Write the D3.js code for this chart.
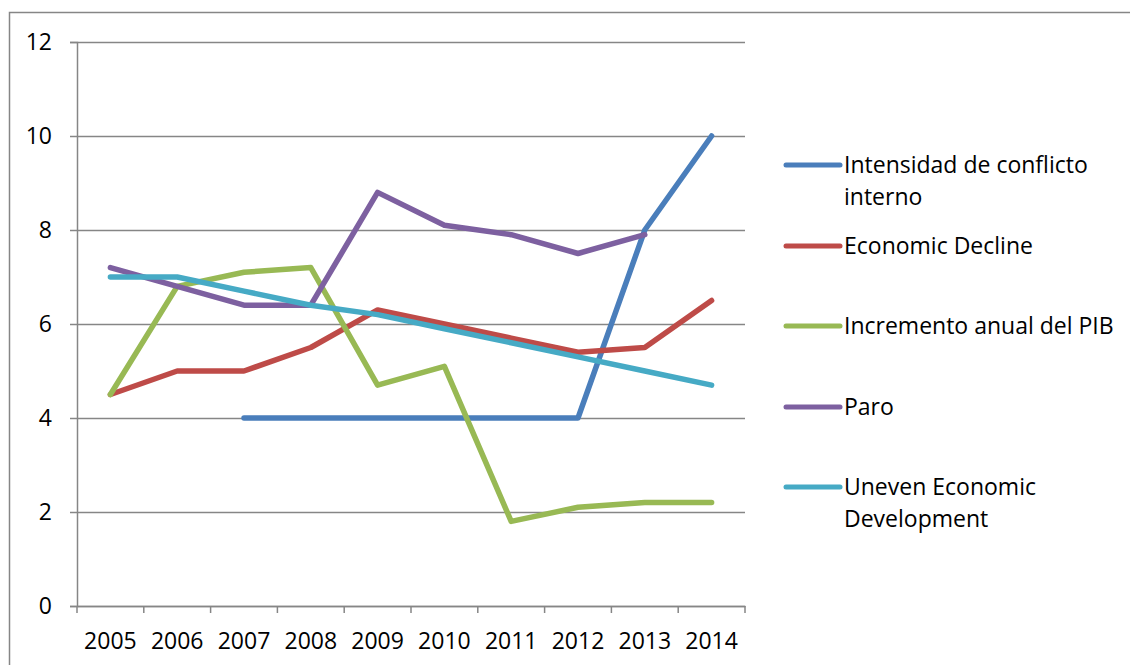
<!DOCTYPE html>
<html>
<head>
<meta charset="utf-8">
<script src="https://cdnjs.cloudflare.com/ajax/libs/d3/7.8.5/d3.min.js"></script>
<style>
  body { margin: 0; background: #fff; }
  svg text { font-family: "Open Sans", "Noto Sans", sans-serif; fill: #000; }
</style>
</head>
<body>
<div id="graph"></div>
<script>
var years = ["2005", "2006", "2007", "2008", "2009", "2010", "2011", "2012", "2013", "2014"];
var yTicks = [0, 2, 4, 6, 8, 10, 12];

var intensidad = [null, null, 4, 4, 4, 4, 4, 4, 8, 10];
var economicDecline = [4.5, 5, 5, 5.5, 6.3, 6, 5.7, 5.4, 5.5, 6.5];
var incremento = [4.5, 6.8, 7.1, 7.2, 4.7, 5.1, 1.8, 2.1, 2.2, 2.2];
var paro = [7.2, 6.8, 6.4, 6.4, 8.8, 8.1, 7.9, 7.5, 7.9, null];
var uneven = [7, 7, 6.7, 6.4, 6.2, 5.9, 5.6, 5.3, 5.0, 4.7];

var seriesNames = [["Intensidad de conflicto", "interno"], ["Economic Decline"], ["Incremento anual del PIB"], ["Paro"], ["Uneven Economic", "Development"]];
var seriesValues = [intensidad, economicDecline, incremento, paro, uneven];
var seriesColours = ["#4A7EBB", "#BE4B48", "#98B954", "#7D60A0", "#46AAC5"];

var width = 1130;
var height = 665;
var margin = {top: 42, left: 77, right: 385, bottom: 59};
var plotW = width - margin.left - margin.right;
var plotH = height - margin.top - margin.bottom;
var fontSize = "23px";

var svg = d3.select("#graph")
            .append("svg")
            .attr("width", width)
            .attr("height", height);

// outer chart frame (runs off the right and bottom of the picture)
svg.append("rect")
   .attr("x", 9.5)
   .attr("y", 12.5)
   .attr("width", width + 20)
   .attr("height", height + 20)
   .attr("fill", "none")
   .attr("stroke", "#868686")
   .attr("stroke-width", 1.5);

var g = svg.append("g")
           .attr("transform", "translate(" + margin.left + "," + margin.top + ")");

var x = d3.scaleBand()
          .domain(years)
          .range([0, plotW])
          .padding(0);

var y = d3.scaleLinear()
          .domain([0, 12])
          .range([plotH, 0]);

// horizontal gridlines
g.append("g")
 .attr("class", "grid")
 .call(d3.axisLeft(y).tickValues(yTicks).tickSize(-plotW).tickFormat(""))
 .call(function(a) { a.select(".domain").remove(); })
 .selectAll("line")
 .attr("stroke", "#868686")
 .attr("stroke-width", 1.5);

var yAxis = g.append("g")
             .call(d3.axisLeft(y).tickValues(yTicks).tickSize(7).tickPadding(18));
yAxis.select(".domain").attr("stroke", "#868686").attr("stroke-width", 1.5);
yAxis.selectAll("line").attr("stroke", "#868686").attr("stroke-width", 1.5);
yAxis.selectAll("text").style("font-size", fontSize);

// x axis: labels centred on categories, tick marks between them
var xAxis = g.append("g")
             .attr("transform", "translate(0," + plotH + ")")
             .call(d3.axisBottom(x).tickSize(0).tickPadding(27));
xAxis.select(".domain").attr("stroke", "#868686").attr("stroke-width", 1.5);
xAxis.selectAll("text").style("font-size", fontSize);

var edges = years.map(function(d) { return x(d); }).concat([plotW]);
g.append("g")
 .selectAll("line")
 .data(edges)
 .enter().append("line")
 .attr("x1", function(d) { return d; })
 .attr("x2", function(d) { return d; })
 .attr("y1", plotH)
 .attr("y2", plotH + 7)
 .attr("stroke", "#868686")
 .attr("stroke-width", 1.5);

var line = d3.line()
             .defined(function(d) { return d != null; })
             .x(function(d, i) { return x(years[i]) + x.bandwidth() / 2; })
             .y(function(d) { return y(d); });

g.selectAll(".series")
 .data(seriesValues)
 .enter().append("path")
 .attr("class", "series")
 .attr("d", function(d) { return line(d); })
 .attr("fill", "none")
 .attr("stroke", function(d, i) { return seriesColours[i]; })
 .attr("stroke-width", 5.5)
 .attr("stroke-linejoin", "round")
 .attr("stroke-linecap", "round");

// legend
var legendY = [165, 246, 326, 407, 487];
var legend = svg.selectAll(".legend")
                .data(seriesNames)
                .enter().append("g")
                .attr("class", "legend")
                .attr("transform", function(d, i) { return "translate(786," + legendY[i] + ")"; });

legend.append("line")
      .attr("x1", 0)
      .attr("x2", 54)
      .attr("stroke", function(d, i) { return seriesColours[i]; })
      .attr("stroke-width", 5)
      .attr("stroke-linecap", "round");

legend.selectAll("text")
      .data(function(d) { return d; })
      .enter().append("text")
      .attr("x", 58)
      .attr("y", function(d, j) { return j * 32; })
      .attr("dy", "0.35em")
      .style("font-size", fontSize)
      .text(function(d) { return d; });
</script>
</body>
</html>
